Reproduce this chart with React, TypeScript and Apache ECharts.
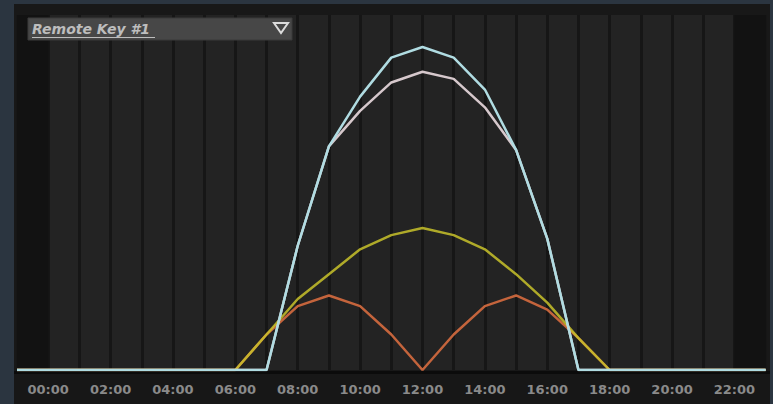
import React, { useEffect, useRef } from "react";
import * as echarts from "echarts";

// hours -1 .. 23 (index 0 is the lead-in column before 00:00)
const categories = [
  "-1:00", "00:00", "01:00", "02:00", "03:00", "04:00", "05:00", "06:00", "07:00",
  "08:00", "09:00", "10:00", "11:00", "12:00", "13:00", "14:00", "15:00", "16:00",
  "17:00", "18:00", "19:00", "20:00", "21:00", "22:00", "23:00",
];

const blueValues = [0, 0, 0, 0, 0, 0, 0, 0, 0, 35, 63, 77, 88, 91, 88, 79, 62, 37, 0, 0, 0, 0, 0, 0, 0];
const pinkValues = [0, 0, 0, 0, 0, 0, 0, 0, 0, 35, 63, 73, 81, 84, 82, 74, 62, 37, 0, 0, 0, 0, 0, 0, 0];
const yellowValues = [0, 0, 0, 0, 0, 0, 0, 0, 10, 20, 27, 34, 38, 40, 38, 34, 27, 19, 9, 0, 0, 0, 0, 0, 0];
const rustValues = [0, 0, 0, 0, 0, 0, 0, 0, 10, 18, 21, 18, 10, 0, 10, 18, 21, 17, 9, 0, 0, 0, 0, 0, 0];

const dropdownLabel = "Remote Key #1";

export default function App() {
  const ref = useRef<HTMLDivElement>(null);

  useEffect(() => {
    if (!ref.current) return;
    const chart = echarts.init(ref.current, null, { renderer: "svg" });

    const line = (name: string, data: number[], color: string, z: number, opacity = 1, extra: any = {}) => ({
      name,
      type: "line",
      data,
      symbol: "none",
      z,
      lineStyle: { color, width: 2.5, opacity },
      ...extra,
    });

    chart.setOption({
      animation: false,
      backgroundColor: "#2b3540",
      grid: {
        left: 17,
        right: 7.4,
        top: 15,
        bottom: 34,
        show: true,
        backgroundColor: "#232323",
        borderWidth: 0,
      },
      xAxis: {
        type: "category",
        data: categories,
        boundaryGap: false,
        axisLine: { show: false },
        axisTick: { show: false },
        axisLabel: {
          color: "#8a8a8a",
          fontFamily: "DejaVu Sans",
          fontWeight: "bold",
          fontSize: 13,
          margin: 13,
          hideOverlap: false,
          interval: (index: number) => index >= 1 && index <= 23 && (index - 1) % 2 === 0,
        },
        splitLine: {
          show: true,
          interval: 0,
          lineStyle: { color: "#161616", width: 3 },
        },
      },
      yAxis: {
        type: "value",
        min: 0,
        max: 100,
        show: false,
        splitLine: { show: false },
      },
      graphic: [
        { type: "rect", z: -100, shape: { x: 14, y: 4, width: 756, height: 400 }, style: { fill: "#181818" } },
        { type: "rect", z: -50, shape: { x: 14, y: 372, width: 756, height: 32 }, style: { fill: "#171717" } },
        { type: "rect", z: -40, shape: { x: 14, y: 371, width: 756, height: 3 }, style: { fill: "#0b0b0b" } },
        { type: "rect", z: 100, shape: { x: 28, y: 18, width: 264, height: 22 }, style: { fill: "#474747", stroke: "#3a3a3a", lineWidth: 1 } },
        {
          type: "text",
          z: 101,
          x: 32,
          y: 29,
          style: {
            text: dropdownLabel,
            fill: "#bdbdbd",
            font: "italic bold 14px 'DejaVu Sans'",
            verticalAlign: "middle",
          },
        },
        { type: "line", z: 101, shape: { x1: 32, y1: 37.5, x2: 155, y2: 37.5 }, style: { stroke: "#bdbdbd", lineWidth: 1 } },
        {
          type: "polygon",
          z: 101,
          shape: { points: [[274, 23], [288, 23], [281, 33]] },
          style: { fill: "none", stroke: "#dcdcdc", lineWidth: 2 },
        },
      ],
      series: [
        line("rust", rustValues, "#c4643c", 3, 1, {
          markArea: {
            silent: true,
            itemStyle: { color: "#121212" },
            data: [
              [{ xAxis: "-1:00" }, { xAxis: "00:00" }],
              [{ xAxis: "22:00" }, { xAxis: "23:00" }],
            ],
          },
        }),
        line("yellow", yellowValues, "#c8c22a", 4, 0.85),
        line("pink", pinkValues, "#d6c8cc", 5),
        line("blue", blueValues, "#b0dce2", 6),
      ],
    });

    return () => chart.dispose();
  }, []);

  return <div ref={ref} style={{ position: "fixed", left: 0, top: 0, width: 773, height: 404 }} />;
}
